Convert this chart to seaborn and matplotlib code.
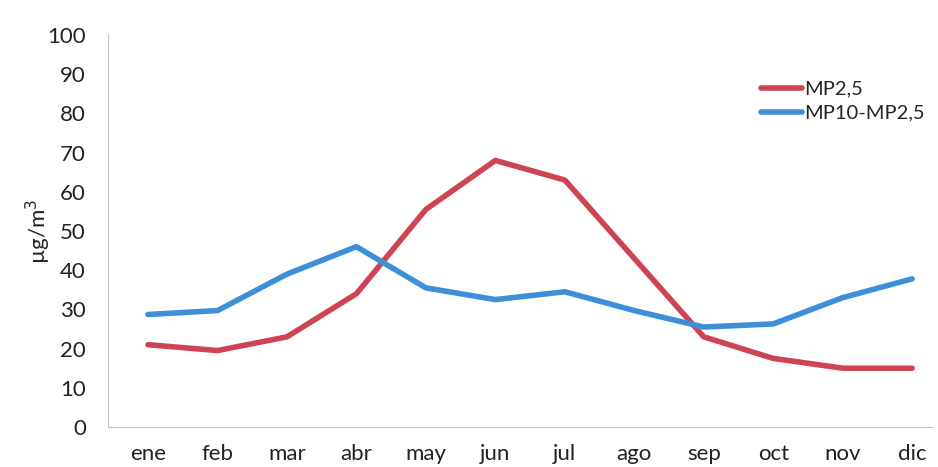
import matplotlib
matplotlib.use("Agg")
import matplotlib.pyplot as plt
import seaborn as sns
import pandas as pd

months = ["ene", "feb", "mar", "abr", "may", "jun", "jul", "ago", "sep", "oct", "nov", "dic"]
mp25 = [21, 19.5, 23, 34, 55.5, 68, 63, 43, 23, 17.5, 15, 15]
mp10_25 = [28.7, 29.7, 39, 46, 35.5, 32.5, 34.5, 29.7, 25.5, 26.3, 33, 37.8]
series_names = ["MP2,5", "MP10-MP2,5"]
yticks = list(range(0, 101, 10))

sns.set_theme(style="white")
plt.rcParams['font.family'] = ['Lato', 'DejaVu Sans']

df = pd.DataFrame({
    "mes": months * 2,
    "x": list(range(len(months))) * 2,
    "valor": mp25 + mp10_25,
    "serie": [series_names[0]] * len(months) + [series_names[1]] * len(months),
})

fig = plt.figure(figsize=(9.38, 4.67), dpi=100)
ax = fig.add_axes([108 / 938, 40 / 467, 825 / 938, 392 / 467])
sns.lineplot(data=df, x="x", y="valor", hue="serie", palette=["#CF4452", "#3D8FD8"],
             linewidth=4, ax=ax, sort=False)

ax.set_xlim(-0.576, 11.3)
ax.set_ylim(0, 100)
ax.set_xticks(range(len(months)))
ax.set_xticklabels(months, fontsize=16, color="#222222")
ax.set_yticks(yticks)
ax.set_yticklabels([str(t) for t in yticks], fontsize=16, color="#222222")
ax.tick_params(axis="x", pad=12, length=0)
ax.tick_params(axis="y", pad=16, length=0)
ax.set_xlabel("")
ax.set_ylabel("µg/m$^3$", fontsize=16, color="#222222")
ax.yaxis.set_label_coords(-55 / 825, 0.5)
for s in ["top", "right"]:
    ax.spines[s].set_visible(False)
for s in ["left", "bottom"]:
    ax.spines[s].set_color("#BFC3D0")
    ax.spines[s].set_linewidth(0.8)

leg = ax.legend(loc="upper left", bbox_to_anchor=(0.77, 0.93), frameon=False,
                fontsize=14.5, handlelength=2.0, handletextpad=0.1, labelspacing=0.35)
for line in leg.get_lines():
    line.set_linewidth(4)

fig.savefig("out.png", dpi=100)
